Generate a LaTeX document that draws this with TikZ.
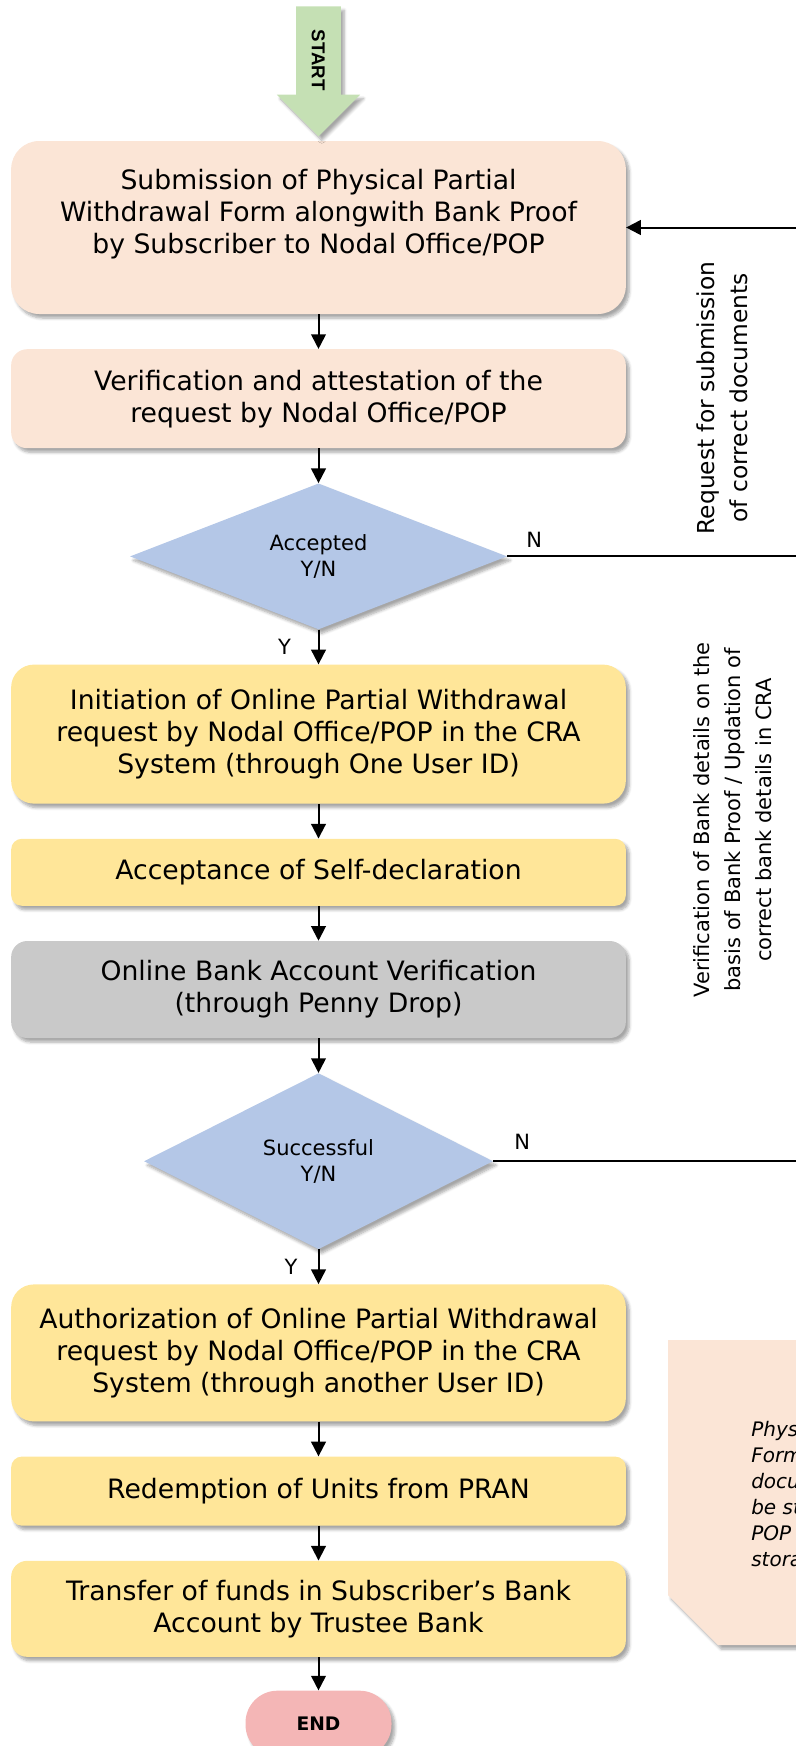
\documentclass[tikz,border=0pt]{standalone}
\usepackage{fontspec}
\setmainfont{DejaVu Sans}
\newfontfamily\startfont{Liberation Sans}
\usetikzlibrary{arrows.meta,positioning,shapes.geometric,shapes.arrows,shadows.blur}
\definecolor{peach}{HTML}{FBE5D6}
\definecolor{sand}{HTML}{FFE699}
\definecolor{stone}{HTML}{C9C9C9}
\definecolor{sky}{HTML}{B4C7E7}
\definecolor{mint}{HTML}{C5E0B4}
\definecolor{rose}{HTML}{F4B6B6}
\tikzset{every picture/.style={
  >={Triangle[length=11pt,width=11pt]}   % solid triangle tips
  }
}

\begin{document}
\begin{tikzpicture}[x=0.75pt,y=-0.75pt,
        node distance=26pt,
        softshadow/.style={
          blur shadow={shadow xshift=2.5pt,shadow yshift=-3pt,
            shadow blur steps=6,shadow opacity=35},
        },
        process/.style={
          rectangle,
          softshadow,
          minimum width=461pt,
          align=center,
          inner sep=0pt,
          font=\fontsize{20}{24}\selectfont,
        },
        decision/.style={
          diamond,
          fill=sky,
          softshadow,
          align=center,
          inner sep=0pt,
          font=\fontsize{15.75}{19.5}\selectfont,
        },
        startarrow/.style={
          single arrow,
          rotate=-90,
          fill=mint,
          softshadow,
          minimum height=97.5pt,
          single arrow head extend=14.6pt,
          text height=10pt,
          text depth=0pt,
          inner xsep=4pt,
          inner ysep=11.5pt,
          font=\startfont\bfseries\fontsize{14}{16}\selectfont,
        },
        terminal/.style={
          rectangle,
          rounded corners=24pt,
          fill=rose,
          softshadow,
          minimum width=109.5pt,
          minimum height=49.5pt,
          font=\bfseries\fontsize{14}{16}\selectfont,
        },
        sidenote/.style={rotate=90,align=center,inner sep=0pt},
        flow/.style={->,line width=1.5pt},
        back/.style={line width=1.5pt},
        yn/.style={inner sep=0pt,font=\fontsize{15.75}{19}\selectfont},
      ]
      \useasboundingbox (0,0) rectangle (796,1746);
      \clip (0,0) rectangle (796,1746);

      % main column
      \node[process,fill=peach,minimum height=129.75pt,rounded corners=21pt] (submit) at (318.5,227.5) {Submission of Physical Partial\\ Withdrawal Form alongwith Bank Proof\\ by Subscriber to Nodal Office/POP\\ \mbox{}};
      \node[startarrow,anchor=tip] (start) at ([yshift=3pt]submit.north) {START};
      \node[process,fill=peach,minimum height=74.25pt,rounded corners=12pt,below=of submit] (verify) {Verification and attestation of the\\ request by Nodal Office/POP};
      \node[decision,minimum width=282.75pt,minimum height=109.5pt,below=of verify] (accepted) {Accepted\\ Y/N};
      \node[process,fill=sand,minimum height=104.25pt,rounded corners=17pt,below=of accepted] (initiate) {Initiation of Online Partial Withdrawal\\ request by Nodal Office/POP in the CRA\\ System (through One User ID)};
      \node[process,fill=sand,minimum height=50.25pt,rounded corners=8pt,below=of initiate] (declare) {Acceptance of Self-declaration};
      \node[process,fill=stone,minimum height=72.75pt,rounded corners=12pt,below=of declare] (penny) {Online Bank Account Verification\\ (through Penny Drop)};
      \node[decision,minimum width=261.75pt,minimum height=132pt,below=of penny] (success) {Successful\\ Y/N};
      \node[process,fill=sand,minimum height=102.75pt,rounded corners=17pt,below=of success] (authorize) {Authorization of Online Partial Withdrawal\\ request by Nodal Office/POP in the CRA\\ System (through another User ID)};
      \node[process,fill=sand,minimum height=51.75pt,rounded corners=8pt,below=of authorize] (redeem) {Redemption of Units from PRAN};
      \node[process,fill=sand,minimum height=72pt,rounded corners=12pt,below=of redeem] (transfer) {Transfer of funds in Subscriber’s Bank\\ Account by Trustee Bank};
      \node[terminal,below=25pt of transfer] (finish) {END};

      \draw[flow] (submit) -- (verify);
      \draw[flow] (verify) -- (accepted);
      \draw[flow] (accepted) -- node[yn,left=20pt] {Y} (initiate);
      \draw[flow] (initiate) -- (declare);
      \draw[flow] (declare) -- (penny);
      \draw[flow] (penny) -- (success);
      \draw[flow] (success) -- node[yn,left=15pt] {Y} (authorize);
      \draw[flow] (authorize) -- (redeem);
      \draw[flow] (redeem) -- (transfer);
      \draw[flow] (transfer) -- (finish);

      % loop back on the right
      \coordinate (loop) at (840,0);
      \draw[back,->] (accepted.east) -- node[yn,pos=0,anchor=south west,xshift=13.5pt,yshift=6pt] {N} (accepted.east -| loop) |- (submit.east);
      \draw[back] (success.east) -- node[yn,pos=0,anchor=south west,xshift=15pt,yshift=8pt] {N} (success.east -| loop) -- (accepted.east -| loop);

      \node[sidenote,font=\fontsize{17.5}{24.75}\selectfont] (resubmit) at (722,398) {Request for submission\\ of correct documents};
      \node[sidenote,font=\fontsize{15.75}{23.25}\selectfont] (bankfix) at (733,820) {Verification of Bank details on the\\ basis of Bank Proof / Updation of\\ correct bank details in CRA};

      % note in the corner
      \fill[peach,softshadow] (668,1340) -- (840,1340) -- (840,1645) -- (718,1645) -- (668,1595) -- cycle;
      \node[anchor=north west,align=left,inner sep=0pt,font=\itshape\fontsize{15}{19.5}\selectfont] (memo) at (751,1421) {Physical\\ Form\\ documents\\ be stored\\ POP\\ storage};
      \end{tikzpicture}
\end{document}
